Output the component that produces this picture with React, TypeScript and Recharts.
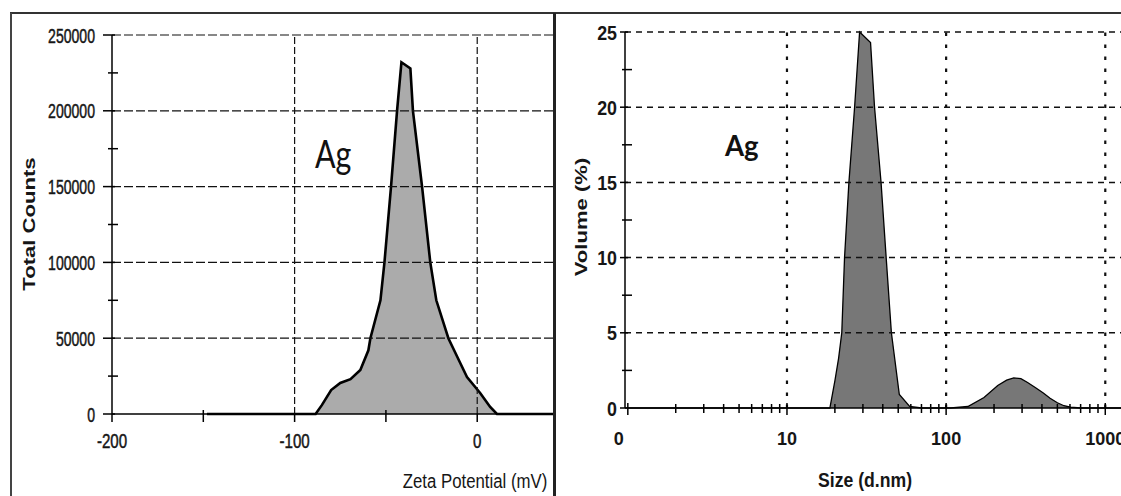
import React from 'react';
import { AreaChart, Area, XAxis, YAxis, ReferenceLine } from 'recharts';

// ---------- Left panel: Zeta potential distribution ----------
const ZETA_MV = [-148, -88.5, -85, -80, -75, -69.4, -64, -59.6, -58.5, -53, -50.8, -47.2, -43.9, -41.5, -36.6, -35.2, -30.2, -25.7, -22.4, -15.8, -9.3, -5.6, 1.6, 7.1, 10.8, 41.5];
const ZETA_COUNTS = [0, 0, 6000, 15800, 20500, 23000, 29000, 42000, 50000, 75000, 100000, 150000, 200000, 232000, 228000, 200000, 150000, 100000, 75000, 50000, 33600, 24400, 13900, 4600, 0, 0];
const ZETA_X_TICKS = [-200, -150, -100, -50, 0];
const ZETA_X_MAJOR = [-200, -100, 0];
const ZETA_X_GRID = [-100, 0];
const ZETA_Y_TICKS = [0, 25000, 50000, 75000, 100000, 125000, 150000, 175000, 200000, 225000, 250000];
const ZETA_Y_MAJOR = [0, 50000, 100000, 150000, 200000, 250000];
const ZETA_Y_GRID = [50000, 100000, 150000, 200000, 250000];

// ---------- Right panel: size distribution by volume ----------
const SIZE_NM = [1, 18.6, 20, 21.1, 22.1, 23, 24.5, 26.6, 28.6, 33.5, 35.5, 39, 42, 45.3, 50.8, 59, 70, 107, 137, 173, 211, 240, 266, 295, 325, 365, 408, 450, 500, 550, 605, 700, 1430];
const SIZE_VOL = [0, 0, 1.8, 3.3, 5, 10, 15, 20, 25, 24.3, 20, 15, 10, 5, 0.9, 0.1, 0, 0, 0.1, 0.7, 1.5, 1.85, 2.0, 1.95, 1.7, 1.35, 1.0, 0.65, 0.35, 0.15, 0.05, 0, 0];
const SIZE_X_TICKS = [1, 2, 3, 4, 5, 6, 7, 8, 9, 10, 20, 30, 40, 50, 60, 70, 80, 90, 100, 200, 300, 400, 500, 600, 700, 800, 900, 1000];
const SIZE_X_MAJOR = [1, 10, 100, 1000];
const SIZE_X_LABELS: Record<number, string> = { 1: '0', 10: '10', 100: '100', 1000: '1000' };
const SIZE_X_GRID = [10, 100, 1000];
const SIZE_Y_TICKS = [0, 2.5, 5, 7.5, 10, 12.5, 15, 17.5, 20, 22.5, 25];
const SIZE_Y_MAJOR = [0, 5, 10, 15, 20, 25];
const SIZE_Y_GRID = [5, 10, 15, 20, 25];

const zetaData = ZETA_MV.map((x, i) => ({ x, v: ZETA_COUNTS[i] }));
const sizeData = SIZE_NM.map((x, i) => ({ x, v: SIZE_VOL[i] }));

const FONT = "'Liberation Sans', Arial, sans-serif";
const TXT = '#161616';

const ZetaXTick = (props: any) => {
  const { x, y, payload } = props;
  const v = payload.value;
  const major = ZETA_X_MAJOR.includes(v);
  return (
    <g>
      <line x1={x} x2={x} y1={major ? y : y - 4} y2={y + 8} stroke="#000" strokeWidth={1.5} />
      {major && (
        <text transform={`translate(${x},${y + 34}) scale(0.72,1)`} textAnchor="middle" fontSize={21} fontFamily={FONT} fill={TXT} stroke={TXT} strokeWidth={0.5}>
          {String(v)}
        </text>
      )}
    </g>
  );
};

const ZetaYTick = (props: any) => {
  const { x, y, payload } = props;
  const v = payload.value;
  const major = ZETA_Y_MAJOR.includes(v);
  return (
    <g>
      <line x1={major ? x - 9 : x - 4} x2={major ? x + 3 : x + 6} y1={y} y2={y} stroke="#000" strokeWidth={1.5} />
      {major && (
        <text transform={`translate(${x - 17},${y + 7.5}) scale(0.67,1)`} textAnchor="end" fontSize={21} fontFamily={FONT} fill={TXT} stroke={TXT} strokeWidth={0.5}>
          {String(v)}
        </text>
      )}
    </g>
  );
};

const SizeXTick = (props: any) => {
  const { x, y, payload } = props;
  const v = payload.value;
  const major = SIZE_X_MAJOR.includes(v);
  const dx = v === 1 ? -9 : 0;
  return (
    <g>
      <line x1={x} x2={x} y1={major ? y - 5 : y - 4} y2={major ? y + 7 : y + 5} stroke="#000" strokeWidth={1.5} />
      {major && (
        <text transform={`translate(${x + dx},${y + 37}) scale(0.95,1)`} textAnchor="middle" fontSize={19} fontWeight={700} fontFamily={FONT} fill={TXT}>
          {SIZE_X_LABELS[v]}
        </text>
      )}
    </g>
  );
};

const SizeYTick = (props: any) => {
  const { x, y, payload } = props;
  const v = payload.value;
  const major = SIZE_Y_MAJOR.includes(v);
  return (
    <g>
      <line x1={major ? x - 5 : x - 3} x2={major ? x + 3 : x + 7} y1={y} y2={y} stroke="#000" strokeWidth={1.5} />
      {major && (
        <text transform={`translate(${x - 8},${y + 7.5}) scale(0.85,1)`} textAnchor="end" fontSize={21} fontWeight={700} fontFamily={FONT} fill={TXT}>
          {String(v)}
        </text>
      )}
    </g>
  );
};

export default function App() {
  return (
    <div style={{ position: 'absolute', left: 0, top: 0, width: 1121, height: 496, overflow: 'hidden', background: '#fff' }}>
      <div style={{ position: 'absolute', left: 0, top: 0 }}>
        <AreaChart width={560} height={496} data={zetaData} margin={{ left: 52, right: 7, top: 35, bottom: 52 }}>
          {ZETA_Y_GRID.map((g) => (
            <ReferenceLine key={'zy' + g} y={g} stroke="#111" strokeWidth={1.2} strokeDasharray="9 3" />
          ))}
          {ZETA_X_GRID.map((g) => (
            <ReferenceLine key={'zx' + g} x={g} stroke="#111" strokeWidth={1.2} strokeDasharray="7 3" />
          ))}
          <Area type="linear" dataKey="v" stroke="#000" strokeWidth={2.6} fill="#ababab" fillOpacity={1} isAnimationActive={false} dot={false} activeDot={false} />
          <XAxis dataKey="x" type="number" domain={[-200, 41.5]} allowDataOverflow ticks={ZETA_X_TICKS} interval={0} tick={ZetaXTick} tickLine={false} tickSize={0} tickMargin={0} axisLine={{ stroke: '#000', strokeWidth: 1.5 }} />
          <YAxis type="number" domain={[0, 250000]} ticks={ZETA_Y_TICKS} interval={0} tick={ZetaYTick} tickLine={false} tickSize={0} tickMargin={0} width={60} axisLine={{ stroke: '#000', strokeWidth: 1.5 }} />
        </AreaChart>
      </div>
      <div style={{ position: 'absolute', left: 556, top: 0 }}>
        <AreaChart width={600} height={496} data={sizeData} margin={{ left: 9, right: 26, top: 32, bottom: 58 }}>
          {SIZE_Y_GRID.map((g) => (
            <ReferenceLine key={'sy' + g} y={g} stroke="#111" strokeWidth={1.5} strokeDasharray="6 5" />
          ))}
          {SIZE_X_GRID.map((g) => (
            <ReferenceLine key={'sx' + g} x={g} stroke="#111" strokeWidth={2.2} strokeDasharray="3.5 8.5" />
          ))}
          <Area type="linear" dataKey="v" stroke="#000" strokeWidth={1.3} fill="#777777" fillOpacity={1} isAnimationActive={false} dot={false} activeDot={false} />
          <XAxis dataKey="x" type="number" scale="log" domain={[0.96, 1430]} allowDataOverflow ticks={SIZE_X_TICKS} interval={0} tick={SizeXTick} tickLine={false} tickSize={0} tickMargin={0} axisLine={{ stroke: '#000', strokeWidth: 1.5 }} />
          <YAxis type="number" domain={[0, 25]} ticks={SIZE_Y_TICKS} interval={0} tick={SizeYTick} tickLine={false} tickSize={0} tickMargin={0} width={60} axisLine={{ stroke: '#000', strokeWidth: 1.5 }} />
        </AreaChart>
      </div>
      <svg width={1121} height={496} style={{ position: 'absolute', left: 0, top: 0, pointerEvents: 'none' }}>
        <line x1={10} x2={1121} y1={13} y2={13} stroke="#333" strokeWidth={2} />
        <line x1={11} x2={11} y1={13} y2={496} stroke="#444" strokeWidth={2} />
        <line x1={554.5} x2={554.5} y1={13} y2={496} stroke="#222" strokeWidth={3} />
        <text transform="translate(35,224) rotate(-90) scale(1.3,1)" textAnchor="middle" fontSize={17} fontWeight={700} fontFamily={FONT} fill={TXT}>Total Counts</text>
        <text transform="translate(475,488) scale(0.8,1)" textAnchor="middle" fontSize={21} fontFamily={FONT} fill={TXT}>Zeta Potential (mV)</text>
        <text transform="translate(587,217) rotate(-90) scale(1.3,1)" textAnchor="middle" fontSize={17} fontWeight={700} fontFamily={FONT} fill={TXT}>Volume (%)</text>
        <text transform="translate(865,487) scale(0.84,1)" textAnchor="middle" fontSize={21} fontWeight={700} fontFamily={FONT} fill={TXT}>Size (d.nm)</text>
        <text transform="translate(315,168) scale(0.8,1)" fontSize={38} fontFamily="Lato, 'Open Sans', sans-serif" fill="#111">Ag</text>
        <text transform="translate(725,156) scale(0.95,1)" fontSize={29} fontWeight={700} fontFamily="Lato, 'Open Sans', sans-serif" fill="#111">Ag</text>
      </svg>
    </div>
  );
}
